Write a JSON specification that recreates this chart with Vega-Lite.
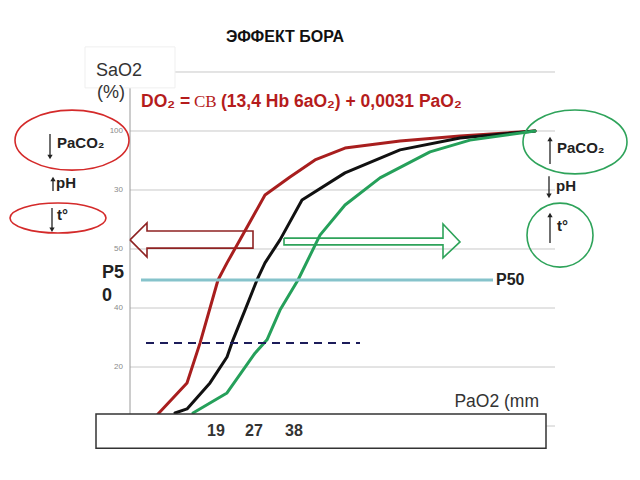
{
  "$schema": "https://vega.github.io/schema/vega-lite/v6.json",
  "width": 640,
  "height": 480,
  "autosize": {"type": "fit", "contains": "padding"},
  "padding": 0,
  "background": "white",
  "config": {"view": {"stroke": null}},
  "resolve": {"scale": {"color": "independent"}},
  "encoding": {
    "x": {"field": "x", "type": "quantitative", "scale": {"domain": [0, 128], "nice": false, "zero": false}, "axis": null},
    "y": {"field": "y", "type": "quantitative", "scale": {"domain": [-18.3, 144.4], "nice": false, "zero": false}, "axis": null}
  },
  "layer": [
    {
      "data": {"values": [
        {"y": 120, "x": 35, "x2": 111},
        {"y": 100, "x": 26, "x2": 111},
        {"y": 80, "x": 26, "x2": 111},
        {"y": 60, "x": 26, "x2": 111},
        {"y": 40, "x": 26, "x2": 111},
        {"y": 20, "x": 26, "x2": 111},
        {"y": 0, "x": 26, "x2": 111}
      ]},
      "mark": {"type": "rule", "color": "#c8c8c8", "strokeWidth": 1},
      "encoding": {"x2": {"field": "x2"}}
    },
    {
      "data": {"values": [{"x": 26, "y": 114.9, "y2": 4.1}]},
      "mark": {"type": "rule", "color": "#9a9a9a", "strokeWidth": 1},
      "encoding": {"y2": {"field": "y2"}}
    },
    {
      "data": {"values": [{"x": 17, "x2": 35, "y": 114.6, "y2": 128.5}]},
      "mark": {"type": "rect", "fill": "white", "stroke": "#efefef", "strokeWidth": 1},
      "encoding": {"x2": {"field": "x2"}, "y2": {"field": "y2"}}
    },
    {
      "data": {"values": [
        {"x": 24.6, "y": 100, "label": "100"},
        {"x": 24.6, "y": 80, "label": "30"},
        {"x": 24.6, "y": 60, "label": "50"},
        {"x": 24.6, "y": 40, "label": "40"},
        {"x": 24.6, "y": 20, "label": "20"}
      ]},
      "mark": {"type": "text", "align": "right", "baseline": "middle", "font": "Liberation Sans", "fontSize": 8, "color": "#8a8a8a"},
      "encoding": {"text": {"field": "label"}}
    },
    {
      "data": {"values": [
        {"arrow": "left", "i": 0, "x": 26, "y": 63.1},
        {"arrow": "left", "i": 1, "x": 29.4, "y": 68.8},
        {"arrow": "left", "i": 2, "x": 29.4, "y": 66.1},
        {"arrow": "left", "i": 3, "x": 50.6, "y": 66.1},
        {"arrow": "left", "i": 4, "x": 50.6, "y": 60.3},
        {"arrow": "left", "i": 5, "x": 29.4, "y": 60.3},
        {"arrow": "left", "i": 6, "x": 29.4, "y": 57.3},
        {"arrow": "left", "i": 7, "x": 26, "y": 63.1},
        {"arrow": "right", "i": 0, "x": 56.8, "y": 63.7},
        {"arrow": "right", "i": 1, "x": 88.6, "y": 63.7},
        {"arrow": "right", "i": 2, "x": 88.6, "y": 68.5},
        {"arrow": "right", "i": 3, "x": 92, "y": 62.4},
        {"arrow": "right", "i": 4, "x": 88.6, "y": 57.0},
        {"arrow": "right", "i": 5, "x": 88.6, "y": 61.4},
        {"arrow": "right", "i": 6, "x": 56.8, "y": 61.4},
        {"arrow": "right", "i": 7, "x": 56.8, "y": 63.7}
      ]},
      "mark": {"type": "line", "strokeWidth": 1.6, "strokeJoin": "miter"},
      "encoding": {
        "order": {"field": "i", "type": "quantitative"},
        "color": {"field": "arrow", "type": "nominal", "scale": {"domain": ["left", "right"], "range": ["#8e2222", "#2ea35a"]}, "legend": null}
      }
    },
    {
      "data": {"values": [
        {"s": "left shift", "i": 0, "x": 31.6, "y": 4.1},
        {"s": "left shift", "i": 1, "x": 34.6, "y": 9.5},
        {"s": "left shift", "i": 2, "x": 37.4, "y": 14.6},
        {"s": "left shift", "i": 3, "x": 40.0, "y": 28.1},
        {"s": "left shift", "i": 4, "x": 43.6, "y": 49.5},
        {"s": "left shift", "i": 5, "x": 45.4, "y": 55.3},
        {"s": "left shift", "i": 6, "x": 48.0, "y": 63.1},
        {"s": "left shift", "i": 7, "x": 53.0, "y": 78.3},
        {"s": "left shift", "i": 8, "x": 58.0, "y": 84.4},
        {"s": "left shift", "i": 9, "x": 63.0, "y": 90.2},
        {"s": "left shift", "i": 10, "x": 69.0, "y": 94.2},
        {"s": "left shift", "i": 11, "x": 80.0, "y": 96.6},
        {"s": "left shift", "i": 12, "x": 92.0, "y": 98.3},
        {"s": "left shift", "i": 13, "x": 107.0, "y": 100},
        {"s": "normal", "i": 0, "x": 35.0, "y": 4.4},
        {"s": "normal", "i": 1, "x": 37.4, "y": 5.8},
        {"s": "normal", "i": 2, "x": 42.0, "y": 14.6},
        {"s": "normal", "i": 3, "x": 45.4, "y": 23.4},
        {"s": "normal", "i": 4, "x": 46.6, "y": 29.2},
        {"s": "normal", "i": 5, "x": 49.0, "y": 39.3},
        {"s": "normal", "i": 6, "x": 51.4, "y": 49.5},
        {"s": "normal", "i": 7, "x": 53.0, "y": 55.3},
        {"s": "normal", "i": 8, "x": 56.0, "y": 63.1},
        {"s": "normal", "i": 9, "x": 60.4, "y": 76.6},
        {"s": "normal", "i": 10, "x": 69.0, "y": 85.8},
        {"s": "normal", "i": 11, "x": 80.0, "y": 93.6},
        {"s": "normal", "i": 12, "x": 92.0, "y": 97.6},
        {"s": "normal", "i": 13, "x": 107.0, "y": 100},
        {"s": "right shift", "i": 0, "x": 38.6, "y": 4.4},
        {"s": "right shift", "i": 1, "x": 45.4, "y": 11.2},
        {"s": "right shift", "i": 2, "x": 51.0, "y": 24.7},
        {"s": "right shift", "i": 3, "x": 53.4, "y": 29.2},
        {"s": "right shift", "i": 4, "x": 56.0, "y": 39.3},
        {"s": "right shift", "i": 5, "x": 59.6, "y": 49.5},
        {"s": "right shift", "i": 6, "x": 64.0, "y": 64.7},
        {"s": "right shift", "i": 7, "x": 69.0, "y": 74.9},
        {"s": "right shift", "i": 8, "x": 76.0, "y": 84.1},
        {"s": "right shift", "i": 9, "x": 86.0, "y": 92.9},
        {"s": "right shift", "i": 10, "x": 94.0, "y": 96.9},
        {"s": "right shift", "i": 11, "x": 107.0, "y": 100}
      ]},
      "mark": {"type": "line", "strokeWidth": 3, "strokeJoin": "round", "strokeCap": "round"},
      "encoding": {
        "order": {"field": "i", "type": "quantitative"},
        "color": {"field": "s", "type": "nominal", "scale": {"domain": ["left shift", "normal", "right shift"], "range": ["#a81e1e", "#111111", "#25a05a"]}, "legend": null}
      }
    },
    {
      "data": {"values": [{"x": 28.2, "x2": 98.6, "y": 49.5}]},
      "mark": {"type": "rule", "color": "#86c3cb", "strokeWidth": 3},
      "encoding": {"x2": {"field": "x2"}}
    },
    {
      "data": {"values": [{"x": 29.2, "x2": 72, "y": 28.1}]},
      "mark": {"type": "rule", "color": "#1c1c5a", "strokeWidth": 2, "strokeDash": [8, 6]},
      "encoding": {"x2": {"field": "x2"}}
    },
    {
      "data": {"values": [{"x": 14.4, "y": 96.9}]},
      "mark": {"type": "point", "filled": false, "stroke": "#d42a2a", "strokeWidth": 1.6, "opacity": 1, "size": 12996,
        "shape": "M 1 0 C 1 0.2905 0.5523 0.526 0 0.526 C -0.5523 0.526 -1 0.2905 -1 0 C -1 -0.2905 -0.5523 -0.526 0 -0.526 C 0.5523 -0.526 1 -0.2905 1 0 Z"}
    },
    {
      "data": {"values": [{"x": 11.6, "y": 70.5}]},
      "mark": {"type": "point", "filled": false, "stroke": "#d42a2a", "strokeWidth": 1.6, "opacity": 1, "size": 9216,
        "shape": "M 1 0 C 1 0.1726 0.5523 0.3125 0 0.3125 C -0.5523 0.3125 -1 0.1726 -1 0 C -1 -0.1726 -0.5523 -0.3125 0 -0.3125 C 0.5523 -0.3125 1 -0.1726 1 0 Z"}
    },
    {
      "data": {"values": [{"x": 115, "y": 96.3}]},
      "mark": {"type": "point", "filled": false, "stroke": "#2ea35a", "strokeWidth": 1.6, "opacity": 1, "size": 10816,
        "shape": "M 1 0 C 1 0.3397 0.5523 0.615 0 0.615 C -0.5523 0.615 -1 0.3397 -1 0 C -1 -0.3397 -0.5523 -0.615 0 -0.615 C 0.5523 -0.615 1 -0.3397 1 0 Z"}
    },
    {
      "data": {"values": [{"x": 112, "y": 64.7}]},
      "mark": {"type": "point", "filled": false, "stroke": "#2ea35a", "strokeWidth": 1.6, "opacity": 1, "size": 4356,
        "shape": "M 1 0 C 1 0.5357 0.5523 0.97 0 0.97 C -0.5523 0.97 -1 0.5357 -1 0 C -1 -0.5357 -0.5523 -0.97 0 -0.97 C 0.5523 -0.97 1 -0.5357 1 0 Z"}
    },
    {
      "data": {"values": [
        {"x": 10, "y": 99.0, "y2": 91.2, "dir": "down"},
        {"x": 10.6, "y": 79.7, "y2": 83.7, "dir": "up"},
        {"x": 10.4, "y": 73.9, "y2": 66.5, "dir": "down"},
        {"x": 110, "y": 88.8, "y2": 97.3, "dir": "up"},
        {"x": 109.8, "y": 84.7, "y2": 78.0, "dir": "down"},
        {"x": 110, "y": 62.0, "y2": 71.5, "dir": "up"}
      ]},
      "mark": {"type": "rule", "color": "#222222", "strokeWidth": 1.3},
      "encoding": {"y2": {"field": "y2"}}
    },
    {
      "data": {"values": [
        {"x": 10, "y": 91.2, "dir": "down"},
        {"x": 10.4, "y": 66.5, "dir": "down"},
        {"x": 109.8, "y": 78.0, "dir": "down"}
      ]},
      "mark": {"type": "point", "shape": "triangle-down", "filled": true, "color": "#222222", "opacity": 1, "size": 28}
    },
    {
      "data": {"values": [
        {"x": 10.6, "y": 83.7, "dir": "up"},
        {"x": 110, "y": 97.3, "dir": "up"},
        {"x": 110, "y": 71.5, "dir": "up"}
      ]},
      "mark": {"type": "point", "shape": "triangle-up", "filled": true, "color": "#222222", "opacity": 1, "size": 28}
    },
    {
      "data": {"values": [
        {"x": 11.4, "y": 95.9, "label": "PaCO₂"},
        {"x": 11.2, "y": 82.4, "label": "pH"},
        {"x": 11.4, "y": 71.6, "label": "t°"}
      ]},
      "mark": {"type": "text", "align": "left", "baseline": "middle", "font": "Liberation Sans", "fontSize": 15, "fontWeight": "bold", "color": "#222222"},
      "encoding": {"text": {"field": "label"}}
    },
    {
      "data": {"values": [
        {"x": 111.4, "y": 94.2, "label": "PaCO₂"},
        {"x": 111.2, "y": 81.4, "label": "pH"},
        {"x": 111.4, "y": 67.8, "label": "t°"}
      ]},
      "mark": {"type": "text", "align": "left", "baseline": "middle", "font": "Liberation Sans", "fontSize": 15, "fontWeight": "bold", "color": "#222222"},
      "encoding": {"text": {"field": "label"}}
    },
    {
      "data": {"values": [{"x": 57, "y": 131.9, "label": "ЭФФЕКТ БОРА"}]},
      "mark": {"type": "text", "align": "center", "baseline": "middle", "font": "Liberation Sans", "fontSize": 16, "fontWeight": "bold", "color": "#111111"},
      "encoding": {"text": {"field": "label"}}
    },
    {
      "data": {"values": [
        {"x": 19.2, "y": 120.3, "label": "SaO2"},
        {"x": 19.4, "y": 112.9, "label": "(%)"}
      ]},
      "mark": {"type": "text", "align": "left", "baseline": "middle", "font": "Liberation Sans", "fontSize": 18, "color": "#333333"},
      "encoding": {"text": {"field": "label"}}
    },
    {
      "data": {"values": [
        {"x": 28.2, "y": 109.8, "label": "DO₂ ="},
        {"x": 44.2, "y": 109.8, "label": "(13,4 Hb 6aO₂) + 0,0031 PaO₂"}
      ]},
      "mark": {"type": "text", "align": "left", "baseline": "middle", "font": "Liberation Sans", "fontSize": 17.5, "fontWeight": "bold", "color": "#b51c1c"},
      "encoding": {"text": {"field": "label"}}
    },
    {
      "data": {"values": [{"x": 38.8, "y": 109.8, "label": "CB"}]},
      "mark": {"type": "text", "align": "left", "baseline": "middle", "font": "Liberation Serif", "fontSize": 17, "color": "#b51c1c"},
      "encoding": {"text": {"field": "label"}}
    },
    {
      "data": {"values": [{"x": 99.2, "y": 49.5, "label": "P50"}]},
      "mark": {"type": "text", "align": "left", "baseline": "middle", "font": "Liberation Sans", "fontSize": 16, "fontWeight": "bold", "color": "#222222"},
      "encoding": {"text": {"field": "label"}}
    },
    {
      "data": {"values": [
        {"x": 20.4, "y": 51.9, "label": "P5"},
        {"x": 20.4, "y": 44.1, "label": "0"}
      ]},
      "mark": {"type": "text", "align": "left", "baseline": "middle", "font": "Liberation Sans", "fontSize": 18, "fontWeight": "bold", "color": "#222222"},
      "encoding": {"text": {"field": "label"}}
    },
    {
      "data": {"values": [{"x": 19.2, "x2": 109.2, "y": 4.1, "y2": -7.5}]},
      "mark": {"type": "rect", "fill": "white", "stroke": "#333333", "strokeWidth": 1.5},
      "encoding": {"x2": {"field": "x2"}, "y2": {"field": "y2"}}
    },
    {
      "data": {"values": [
        {"x": 43.2, "y": -1.7, "label": "19"},
        {"x": 50.8, "y": -1.7, "label": "27"},
        {"x": 58.8, "y": -1.7, "label": "38"}
      ]},
      "mark": {"type": "text", "align": "center", "baseline": "middle", "font": "Liberation Sans", "fontSize": 16, "fontWeight": "bold", "color": "#333333"},
      "encoding": {"text": {"field": "label"}}
    },
    {
      "data": {"values": [{"x": 107.8, "y": 8.1, "label": "PaO2 (mm"}]},
      "mark": {"type": "text", "align": "right", "baseline": "middle", "font": "Liberation Sans", "fontSize": 17.5, "color": "#333333"},
      "encoding": {"text": {"field": "label"}}
    }
  ]
}
